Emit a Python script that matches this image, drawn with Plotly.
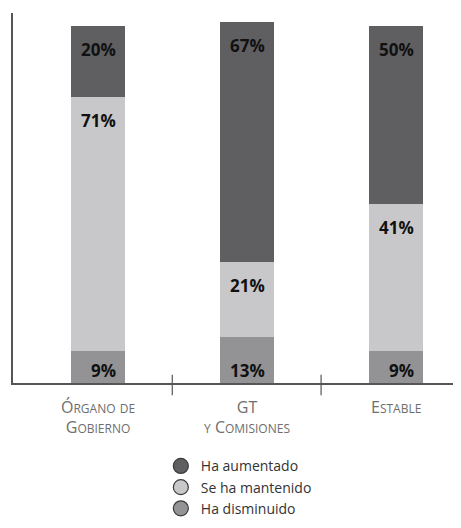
import plotly.graph_objects as go
import numpy as np

categories = ['Órgano de<br>Gobierno', 'GT<br>y Comisiones', 'Estable']
disminuido = [9, 13, 9]
mantenido = [71, 21, 41]
aumentado = [20, 67, 50]
series_names = ['Ha aumentado', 'Se ha mantenido', 'Ha disminuido']

c_up = '#5f5f61'
c_same = '#c8c8ca'
c_down = '#939396'
bar_w = 0.363
FONT = 'Open Sans'


def small_caps(txt, big=16, small=12):
    # lowercase runs -> smaller uppercase spans, capitals stay big
    lines = []
    for line in txt.split('<br>'):
        out = ''
        run = ''
        for ch in line:
            if ch.islower():
                run += ch.upper()
            else:
                if run:
                    out += f'<span style="font-size:{small}px">{run}</span>'
                    run = ''
                out += f'<span style="font-size:{big}px">{ch}</span>'
        if run:
            out += f'<span style="font-size:{small}px">{run}</span>'
        lines.append(out)
    return '<br>'.join(lines)


x = list(range(len(categories)))

fig = go.Figure()
# stacked bars, bottom to top
for vals, col in [(disminuido, c_down), (mantenido, c_same), (aumentado, c_up)]:
    fig.add_trace(go.Bar(x=x, y=vals, width=bar_w, marker=dict(color=col, line=dict(width=0)),
                         showlegend=False, hoverinfo='skip'))

# legend entries as circles
for name, col in zip(series_names, [c_up, c_same, c_down]):
    fig.add_trace(go.Scatter(x=[None], y=[None], mode='markers', name=name,
                             marker=dict(symbol='circle', size=15, color=col,
                                         line=dict(color='#3a3a3a', width=1.2))))

# value labels
lab_font = dict(family=FONT, size=17, color='#111111')
for i in x:
    fig.add_annotation(x=i + bar_w / 2, y=0, xref='x', yref='y', text=f'<b>{disminuido[i]}%</b>',
                       showarrow=False, xanchor='right', yanchor='bottom', xshift=-7, yshift=-1,
                       font=lab_font)
    top_mid = disminuido[i] + mantenido[i]
    fig.add_annotation(x=i + bar_w / 2, y=top_mid, xref='x', yref='y', text=f'<b>{mantenido[i]}%</b>',
                       showarrow=False, xanchor='right', yanchor='top', xshift=-7, yshift=-10,
                       font=lab_font)
    top_up = top_mid + aumentado[i]
    fig.add_annotation(x=i + bar_w / 2, y=top_up, xref='x', yref='y', text=f'<b>{aumentado[i]}%</b>',
                       showarrow=False, xanchor='right', yanchor='top', xshift=-7, yshift=-10,
                       font=lab_font)

# category labels in small caps
for i, cat in enumerate(categories):
    fig.add_annotation(x=i, y=0, xref='x', yref='paper', text=small_caps(cat),
                       showarrow=False, xanchor='center', yanchor='top', yshift=-11,
                       font=dict(family=FONT, size=15.5, color='#6e6e6e'))

# divider ticks crossing the x axis
for xv in [0.5, 1.5]:
    fig.add_shape(type='line', xref='x', yref='paper', x0=xv, x1=xv, y0=0.022, y1=-0.033,
                  line=dict(color='#555555', width=1.2))

fig.update_layout(
    width=453, height=520,
    margin=dict(l=5, r=0, t=5, b=145),
    barmode='stack',
    plot_bgcolor='white', paper_bgcolor='white',
    font=dict(family=FONT),
    xaxis=dict(range=[-0.57, 2.44], showticklabels=False,
               showline=True, linecolor='#555555', linewidth=1.5, ticks='',
               showgrid=False, zeroline=False, fixedrange=True),
    yaxis=dict(range=[0, 103.6], showline=True, linecolor='#555555', linewidth=1.5,
               showticklabels=False, ticks='', showgrid=False, zeroline=False, fixedrange=True),
    legend=dict(x=0.33, y=-0.182, xanchor='left', yanchor='top', orientation='v',
                traceorder='normal',
                font=dict(family=FONT, size=14, color='#333333'),
                bgcolor='rgba(0,0,0,0)', itemsizing='trace'),
    showlegend=True,
)

fig.write_html('out.html')
